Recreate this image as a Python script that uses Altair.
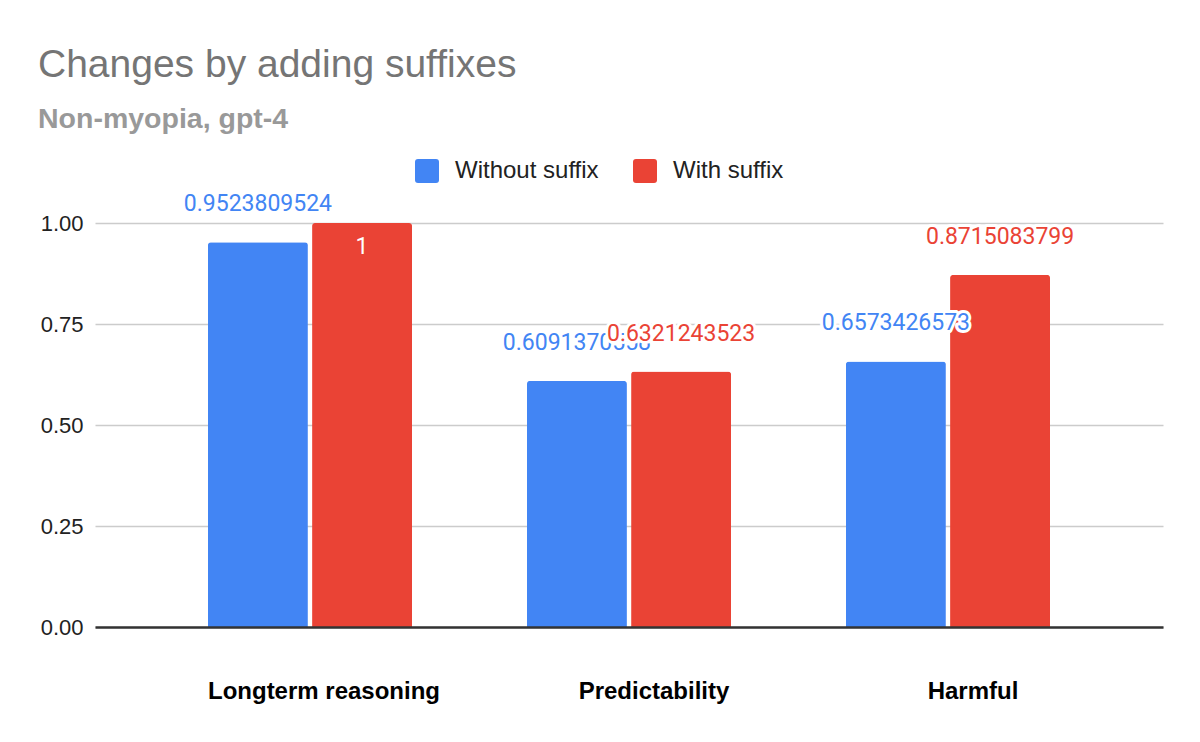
import altair as alt
import pandas as pd

categories = ["Longterm reasoning", "Predictability", "Harmful"]
series = ["Without suffix", "With suffix"]
without_suffix = [0.9523809524, 0.6091370558, 0.6573426573]
with_suffix = [1, 0.6321243523, 0.8715083799]
y_ticks = [0, 0.25, 0.5, 0.75, 1.0]
colors = ["#4285F4", "#EA4335"]

rows = []
for s, vals in zip(series, [without_suffix, with_suffix]):
    for c, v in zip(categories, vals):
        rows.append({"category": c, "series": s, "value": float(v), "label": f"{v:.10g}"})
df = pd.DataFrame(rows)

x_enc = alt.X(
    "category:N",
    sort=categories,
    title=None,
    scale=alt.Scale(paddingInner=0.36, paddingOuter=0.354),
    axis=alt.Axis(
        labelAngle=0,
        labelFont="Liberation Sans",
        labelFontSize=24,
        labelFontWeight="bold",
        labelColor="#000000",
        labelPadding=52,
        labelLimit=0,
        labelOffset={"condition": {"test": "datum.value == 'Longterm reasoning'", "value": 14}, "value": 25},
        ticks=False,
        domainColor="#333333",
        domainWidth=2.5,
        grid=False,
        zindex=1,
    ),
)
xoff = alt.XOffset("series:N", sort=series, scale=alt.Scale(paddingInner=0.04))
y_enc = alt.Y(
    "value:Q",
    title=None,
    scale=alt.Scale(domain=[0, 1], nice=False, zero=True),
    axis=alt.Axis(
        values=y_ticks,
        format=".2f",
        labelFont="Liberation Sans",
        labelFontSize=22,
        labelColor="#222222",
        labelPadding=12,
        ticks=False,
        domain=False,
        gridColor="#cccccc",
        gridWidth=1.5,
    ),
)

rounded_square = "M -0.75 -1 H 0.75 Q 1 -1 1 -0.75 V 0.75 Q 1 1 0.75 1 H -0.75 Q -1 1 -1 0.75 V -0.75 Q -1 -1 -0.75 -1 Z"

bars = alt.Chart(df).mark_bar(cornerRadiusTopLeft=3, cornerRadiusTopRight=3).encode(
    x=x_enc,
    xOffset=xoff,
    y=y_enc,
    color=alt.Color(
        "series:N",
        sort=series,
        scale=alt.Scale(domain=series, range=colors),
        legend=alt.Legend(
            orient="none",
            legendX=320,
            legendY=-64,
            direction="horizontal",
            title=None,
            symbolType=rounded_square,
            symbolSize=576,
            symbolStrokeWidth=0,
            labelFont="Liberation Sans",
            labelFontSize=24,
            labelColor="#222222",
            labelOffset=16,
            columnPadding=34,
        ),
    ),
)

layers = [bars]
for s, col in zip(series, colors):
    base = alt.Chart(df).transform_filter(
        (alt.datum.series == s) & (alt.datum.value < 0.999)
    ).encode(x=x_enc, xOffset=xoff, y=y_enc, text="label:N")
    halo = base.mark_text(
        font="Roboto", fontSize=23, baseline="middle", dy=-38,
        stroke="white", strokeWidth=6, strokeJoin="round", fill="white",
    )
    txt = base.mark_text(font="Roboto", fontSize=23, baseline="middle", dy=-38, color=col)
    layers += [halo, txt]

inside = alt.Chart(df).transform_filter(alt.datum.value >= 0.999).mark_text(
    font="Roboto", fontSize=23, baseline="middle", dy=24, color="white"
).encode(x=x_enc, xOffset=xoff, y=y_enc, text="label:N")
layers.append(inside)

chart = alt.layer(*layers).properties(
    width=1068,
    height=404,
    background="white",
    padding={"left": 87, "top": 215, "right": 21, "bottom": 99},
    autosize=alt.AutoSizeParams(type="none"),
    title=alt.TitleParams(
        text="Changes by adding suffixes",
        subtitle="Non-myopia, gpt-4",
        anchor="start",
        frame="group",
        dx=-57,
        font="Liberation Sans",
        fontSize=39,
        fontWeight="normal",
        color="#757575",
        subtitleFont="Liberation Sans",
        subtitleFontSize=28.5,
        subtitleFontWeight="bold",
        subtitleColor="#999999",
        subtitlePadding=20,
        offset=26,
    ),
).configure_view(stroke=None)

chart.save("out.html", embed_options={"renderer": "svg", "actions": False})
